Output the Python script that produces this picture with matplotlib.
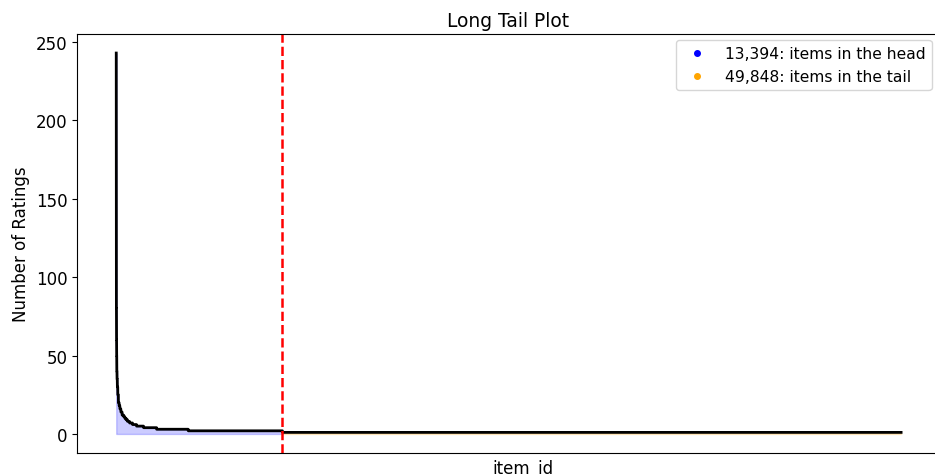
import numpy as np
import matplotlib
matplotlib.use("Agg")
import matplotlib.pyplot as plt

# Head: rating counts (descending) and the number of items having each count
head_values = [243, 200, 150, 120, 100, 80, 60, 50, 40, 35, 30, 25, 20, 18, 16, 14,
               12, 11, 10, 9, 8, 7, 6, 5, 4, 3, 2]
head_runs = [1, 1, 2, 3, 4, 6, 10, 12, 20, 25, 35, 50, 60, 60, 80, 100,
             130, 90, 100, 120, 160, 240, 320, 570, 1050, 2550, 7595]
# Tail: all items with a single rating
tail_values = [1]
tail_runs = [49848]

n_head = 13394
n_tail = 49848

head = np.repeat(head_values, head_runs)
tail = np.repeat(tail_values, tail_runs)
counts = np.concatenate([head, tail])
x = np.arange(len(counts))

plt.rcParams['font.family'] = ['DejaVu Sans']
plt.rcParams['font.size'] = 12

fig = plt.figure(figsize=(9.35, 4.77), dpi=100)
ax = fig.add_axes([77/935, 1-454/477, (969-77)/935, (454-35)/477])

ax.plot(x, counts, color='black', lw=2)
ax.fill_between(x[:n_head+1], counts[:n_head+1], color='blue', alpha=0.2)
ax.fill_between(x[n_head:], counts[n_head:], color='orange', alpha=0.2)
ax.axvline(n_head, color='red', ls='--', lw=1.8)

ax.set_xlim(-0.05*len(counts), len(counts)*1.0865)

ax.plot([], [], 'o', color='blue', ms=4, label=f"{n_head:,}: items in the head")
ax.plot([], [], 'o', color='orange', ms=4, label=f"{n_tail:,}: items in the tail")
ax.legend(loc='upper right', fontsize=11.2, handletextpad=0.75,
          bbox_to_anchor=(931.5/935, 1-41/477), bbox_transform=fig.transFigure,
          borderaxespad=0)

ax.set_xticks([])
ax.set_yticks([0, 50, 100, 150, 200, 250])
ax.set_xlabel("item_id", fontsize=12)
ax.set_ylabel("Number of Ratings", fontsize=12)
ax.set_title("Long Tail Plot", fontsize=13.4)
ax.title.set_position(((508.5 - 77) / (969 - 77), 1.0))

fig.savefig("out.png", dpi=100)
